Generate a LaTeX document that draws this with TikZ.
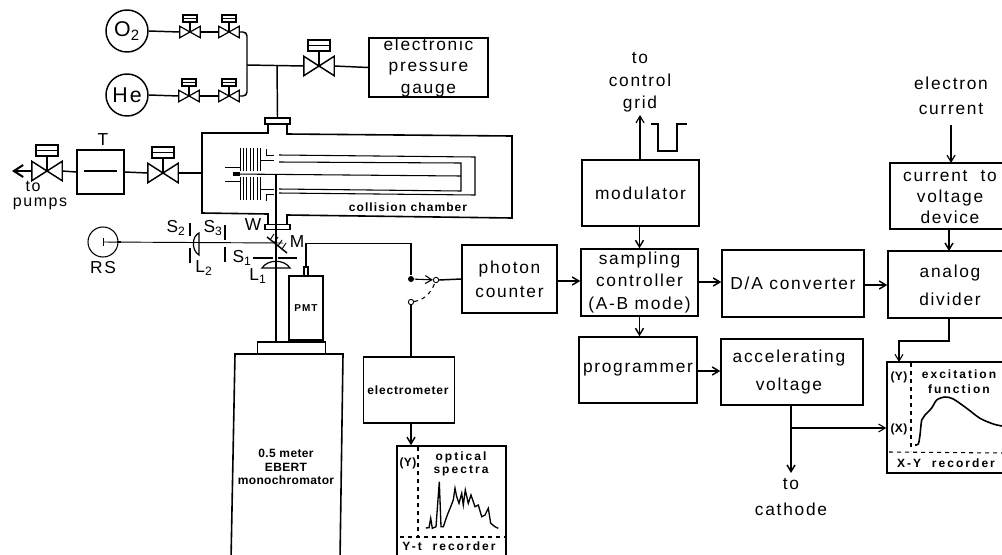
\documentclass[tikz,border=0pt]{standalone}
\usepackage{fontspec}
\setmainfont{Liberation Sans}[LetterSpace=10]
\usetikzlibrary{arrows.meta,positioning,calc}
\begin{document}
\begin{tikzpicture}[x=0.75pt,y=-0.75pt,>={Straight Barb[length=5pt,width=6pt]},line width=1.1pt,font=\fontsize{13}{15}\selectfont]
\tikzstyle{c}=[draw,inner sep=0pt,align=center]
\tikzstyle{t}=[inner sep=0pt,align=center]
\tikzstyle{sm}=[inner sep=0pt,align=center,font=\fontsize{9}{11}\selectfont\bfseries\addfontfeature{LetterSpace=3}]
\tikzstyle{smw}=[inner sep=0pt,align=center,font=\fontsize{9}{11}\selectfont\bfseries\addfontfeature{LetterSpace=17}]
\tikzstyle{sv}=[inner sep=0pt,minimum width=14.25pt,minimum height=7.5pt]
\tikzstyle{bv}=[inner sep=0pt,minimum width=21.75pt,minimum height=13.5pt]
\tikzstyle{hole}=[draw,circle,fill=white,inner sep=0pt,minimum size=4pt,line width=0.7pt]
\useasboundingbox (0,0) rectangle (1002,554);
\clip (0,0) rectangle (1002,554);
% gas inlet
\node[c,circle,minimum size=31.5pt,font=\fontsize{16}{18}\selectfont] (o2) at (127,31) {O\textsubscript{2}};
\node[c,circle,minimum size=31.5pt,font=\fontsize{16}{18}\selectfont] (he) at (127,95) {He};
\node[sv] (v1) at (190,32) {}; \node[sv] (v2) at (229,32) {};
\node[sv] (v3) at (189,96) {}; \node[sv] (v4) at (229,96) {};
\foreach \v in {v1,v2,v3,v4} {
 \draw[line width=0.9pt] (\v.north west) -- (\v.south east) -- (\v.north east) -- (\v.south west) -- cycle;
 \draw[line width=0.9pt] (\v.center) -- ++(0,-11);
 \draw[line width=0.9pt,fill=white] ($(\v.center)+(-7,-17)$) rectangle ($(\v.center)+(7,-10)$);
 \draw[line width=0.6pt] ($(\v.center)+(-7,-14)$) -- ($(\v.center)+(7,-14)$);
}
\node[bv] (v5) at (319,66) {};
\node[bv] (v6) at (163,173) {};
\node[bv] (v7) at (47,171) {};
\foreach \v in {v5,v6,v7} {
 \draw (\v.north west) -- (\v.south east) -- (\v.north east) -- (\v.south west) -- cycle;
 \draw (\v.center) -- ++(0,-16);
 \draw[fill=white] ($(\v.center)+(-11,-26)$) rectangle ($(\v.center)+(11,-15)$);
 \draw[line width=0.7pt] ($(\v.center)+(-11,-21)$) -- ($(\v.center)+(11,-21)$);
}
\node[c,minimum width=89.25pt,minimum height=44.25pt] (gauge) at (428.5,67.5) {electronic\\[1pt]pressure\\[1pt]gauge};
\coordinate (ju) at (247,65); \coordinate (jf) at (277,65);
\draw (o2.east) -- (v1.west); \draw (v1.east) -- (v2.west);
\draw (he.east) -- (v3.west); \draw (v3.east) -- (v4.west);
\draw[rounded corners=3pt] (v2.east) -| (ju) |- (v4.east);
\draw (ju) -- (v5.west); \draw (v5.east) -- (gauge.west);
\node[c,minimum width=18.75pt,minimum height=4.5pt] (ft) at (277.5,121) {};
\node[c,minimum width=18.75pt,minimum height=4pt] (fb) at (277.5,227) {};
\draw (jf) -- (ft.north);
% chamber
\draw[line width=1.2pt] (268,124) -- (268,133) -- (202,133) -- (202,213) -- (268,214) -- (268,224);
\draw[line width=1.2pt] (287,124) -- (287,134) -- (512,136) -- (512,218) -- (287,215) -- (287,224);
\draw[line width=0.8pt] (279,155) -- (475,157) -- (475,195) -- (279,193);
\draw[line width=0.8pt] (279,162) -- (461,163) -- (461,191) -- (279,189);
\draw[line width=0.8pt] (233,174) -- (461,176);
\draw[line width=2.4pt] (233,174) -- (240,174);
\draw[line width=0.7pt] (225,167) -- (241,167); \draw[line width=0.7pt] (225,181) -- (241,181);
\foreach \x in {240,243,246.5,250.5,253.5,257,260} {
 \draw[line width=0.7pt] (\x,148) -- (\x,171);
 \draw[line width=0.7pt] (\x,177) -- (\x,200);
}
\draw[line width=0.7pt] (260,160) -- (274,160); \draw[line width=0.7pt] (266,149) |- (274,155);
\draw[line width=0.7pt] (260,189) -- (274,189); \draw[line width=0.7pt] (266,201) |- (274,194);
\node[smw,font=\fontsize{9}{11}\selectfont\bfseries\addfontfeature{LetterSpace=9}] (cc) at (408,207) {collision chamber};
\node[t] (wl) at (253,225) {W};
% pump line
\node[c,minimum width=35.25pt,minimum height=33pt] (trap) at (100.5,172) {};
\node[t] (tl) at (103,140) {T};
\coordinate (tp) at (12,171);
\draw[-{Straight Barb[length=7pt,width=9pt]},line width=1.5pt] (v7.west) -- (tp);
\draw (v7.east) -- (trap.west); \draw (trap.east) -- (v6.west); \draw (v6.east) -- (202,173);
\draw (84,171) -- (117,171);
\node[t,font=\fontsize{12}{14}\selectfont] (pt) at (33,186) {to};
\node[t,font=\fontsize{12}{14}\selectfont] (pu) at (40,204) {pumps};
% optics
\node[draw,circle,minimum size=22.5pt,inner sep=0pt,line width=0.8pt] (rs) at (103,242) {};
\node[t] (rsl) at (103,268) {RS};
\coordinate (mm) at (283,243);
\draw[line width=0.7pt] (rs.center) -- (mm);
\draw[line width=0.7pt] (rs.center) ++(0,-4) -- ++(0,8);
\draw[line width=1.4pt] (117,242) -- (121,242);
\draw[line width=0.9pt] (190,223) -- (190,236); \draw[line width=0.9pt] (190,248) -- (190,263);
\draw[line width=0.9pt] (225,225) -- (225,240); \draw[line width=0.9pt] (225,247) -- (225,262);
\draw[line width=0.9pt] (199,233) .. controls (192,236) and (191,250) .. (199,255) -- cycle;
\draw[line width=1.1pt] (267,237) -- (287,253);
\foreach \x/\y in {270/240,274/243,278/246,282/249} { \draw[line width=0.7pt] (\x,\y) -- ++(4,-6); }
\draw (276,175) -- (276,341);
\draw[line width=0.8pt] (253,258) -- (273,258); \draw[line width=0.8pt] (278,258) -- (297,258);
\draw[line width=0.9pt] (262,268) .. controls (268,259) and (284,259) .. (290,268) -- cycle;
\node[t] (s2) at (176,228) {S\textsubscript{2}};
\node[t] (s3) at (213,228) {S\textsubscript{3}};
\node[t] (l2) at (204,268) {L\textsubscript{2}};
\node[t] (s1) at (242,258) {S\textsubscript{1}};
\node[t] (l1) at (258,276) {L\textsubscript{1}};
\node[t] (ml) at (297,242) {M};
% monochromator and PMT
\node[c,minimum width=51pt,minimum height=9pt] (base) at (291.5,348) {};
\node[c,minimum width=25.5pt,minimum height=48pt] (pmt) at (306,308) {};
\node[sm,font=\fontsize{7.5}{9}\selectfont\bfseries] (pmtl) at (306,308) {PMT};
\node[c,minimum width=3pt,minimum height=6.75pt] (nz) at (306,271.5) {};
\draw[line width=1.2pt] (235,354) -- (343,354) -- (340,560) -- (231,560) -- cycle;
\node[sm] (mono) at (286,467) {0.5 meter\\[-1pt]EBERT\\[-1pt]monochromator};
% switch
\node[fill,circle,inner sep=0pt,minimum size=4.5pt] (dot) at (411,279) {};
\node[hole] (sa) at (436,280) {};
\node[hole] (sb) at (411,302) {};
\draw[line width=0.8pt] (nz.north) -- ++(0,-23) -| (dot);
\draw[->,line width=0.8pt] (dot) -- (sa);
\draw[dashed,line width=0.8pt] (sb) .. controls (424,300) and (431,293) .. (sa);
\node[c,minimum width=68pt,minimum height=49.5pt] (em) at (409,390) {};
\node[sm,font=\fontsize{9}{11}\selectfont\bfseries\addfontfeature{LetterSpace=7}] (eml) at (408,390) {electrometer};
\draw[line width=0.8pt] (sb) -- (em.north -| sb);
\node[c,minimum width=71.25pt,minimum height=51pt] (pc) at (509.5,279) {photon\\[3pt]counter};
\draw (sa.east) -- (pc.west);
% Y-t recorder
\node[c,line width=1.2pt,minimum width=82pt,minimum height=90pt] (yt) at (451.5,506) {};
\draw[->] (em.south -| sb) -- (yt.north -| sb);
\draw[dashed,line width=0.8pt] (418,447) -- (418,537);
\draw[dashed,line width=0.8pt] (400,537) -- (505,537);
\node[sm] (yty) at (408,463) {(Y)};
\node[smw] (ytt) at (461,464) {optical\\[-1pt]spectra};
\node[smw] (ytr) at (449,546) {Y-t\ \ recorder};
\draw[line width=1pt] plot coordinates {(425.7,528) (429,527.7) (430.7,518.3) (432.3,528.3) (436,526.7) (439.3,481.7) (441,526.7) (443.3,526.7) (447.3,515) (450.7,506.7) (453.3,500) (455,488.3) (456.7,496.7) (459,503.3) (461.7,493.3) (463.3,505) (465.3,490) (468.3,503.3) (471,495) (475,506.7) (478.3,505) (481.7,516.7) (485,515) (488.3,508.3) (490.7,523.3) (495,526.7) (498.3,528.3)};
% electronics
\node[c,minimum width=87.75pt,minimum height=49.5pt] (mod) at (640.5,193) {modulator};
\node[c,minimum width=87.75pt,minimum height=50.25pt] (samp) at (639.5,282.5) {sampling\\[2pt]controller\\[2pt](A-B mode)};
\node[c,minimum width=88.5pt,minimum height=49.5pt] (prog) at (638,370) {programmer};
\node[c,minimum width=106.5pt,minimum height=50.25pt] (da) at (793,283.5) {D/A converter};
\node[c,minimum width=106.5pt,minimum height=49.5pt] (acc) at (792,372) {};
\node[t] (accl) at (789,372.5) {accelerating\\[6pt]voltage};
\node[c,minimum width=120pt,minimum height=49.5pt] (cur) at (970,196) {};
\node[t] (curl) at (950,197) {current\ \ to\\[1pt]voltage\\[1pt]device};
\node[c,minimum width=120pt,minimum height=50.25pt] (ana) at (968,284.5) {};
\node[t] (anal) at (950,285) {analog\\[6pt]divider};
\draw[->] (mod.south -| samp) -- (samp.north);
\draw[->] (samp.south) -- (prog.north -| samp.south);
\draw[->] (samp.east |- 0,282) -- (da.west |- 0,282);
\draw[->] (da.east |- 0,285) -- (ana.west |- 0,285);
\draw[->] (prog.east |- 0,371) -- (acc.west |- 0,371);
\draw[->] (pc.east |- 0,281) -- (samp.west |- 0,281);
\draw[->] (949,229) -- (949,251);
% top and bottom labels
\node[t] (gr) at (640,82.5) {to\\[2pt]control\\[2pt]grid};
\coordinate (gt) at (640,115);
\draw[->,line width=0.9pt] (mod.north -| gt) -- (gt);
\draw[line width=0.9pt] (651,124) -- (658,124) -- (658,151) -- (677,151) -- (677,124) -- (687,124);
\node[t] (ec) at (951,96) {electron\\[4pt]current};
\coordinate (ece) at (951,125);
\draw[->,line width=0.9pt] (ece) -- (951,163);
\node[t] (ca) at (791,497) {to\\[5pt]cathode};
\draw[->] (acc.south -| ca) -- (791,473);
% X-Y recorder
\node[c,line width=1.2pt,minimum width=120pt,minimum height=83pt] (xy) at (967,417.5) {};
\draw[line width=0.8pt,->] (949,318) -- (949,341) -- (899,341) -- (899,362);
\draw[line width=0.8pt,->] (791,428) -- (xy.west |- 0,428);
\draw[dashed,line width=0.8pt] (911,363) -- (911,451);
\draw[dashed,line width=0.8pt] (889,452) -- (1002,453);
\node[sm] (xyy) at (899,377) {(Y)};
\node[sm] (xyx) at (899,429) {(X)};
\node[smw] (xyt) at (959,382) {excitation\\[0pt]function};
\node[smw] (xyr) at (946,463) {X-Y\ \ recorder};
\draw[line width=1.2pt] plot[smooth] coordinates {(915,445) (918.3,444) (920,435) (921.7,420) (925,415) (931.7,408) (936.7,400) (945,397) (953.3,399) (966.7,408.3) (980,418.3) (993.3,424) (1002,426)};
\end{tikzpicture}
\end{document}
